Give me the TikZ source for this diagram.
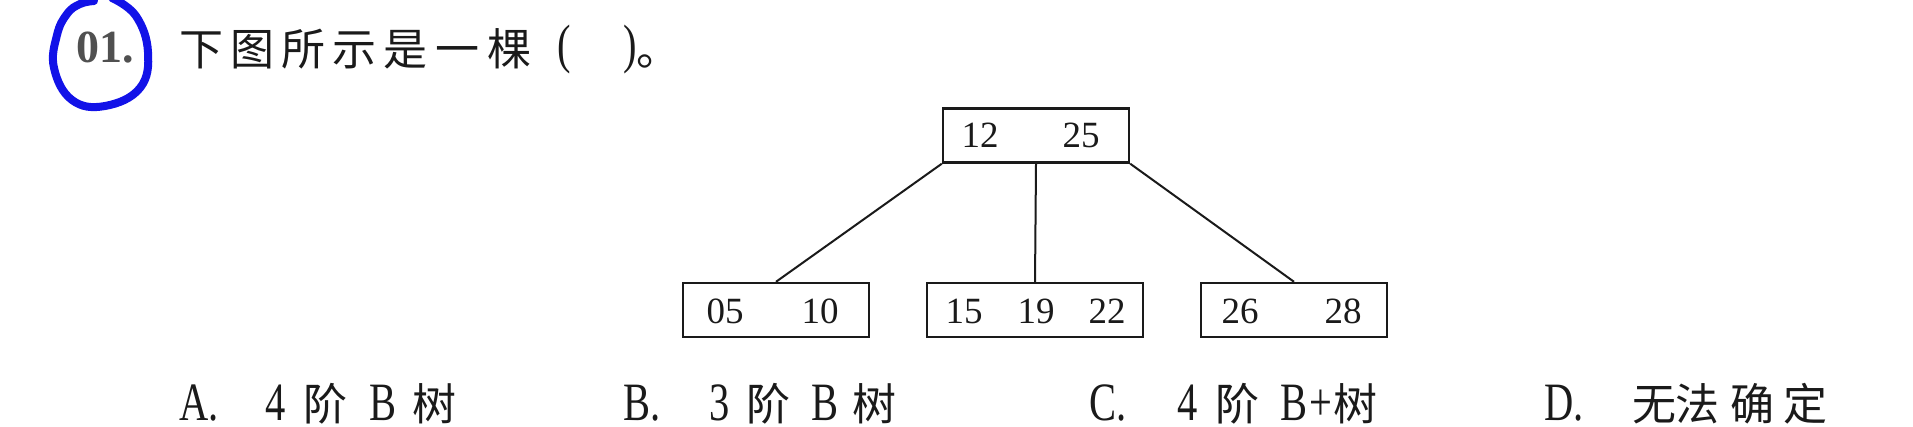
\documentclass[tikz,border=0pt]{standalone}
\usepackage{fontspec}
\setmainfont{Liberation Serif}
\newfontfamily\cjk{Noto Sans CJK SC}
\newfontfamily\latn[FakeStretch=0.75]{Liberation Serif}
\newcommand\myzh[1]{{\cjk\fontsize{44}{48}\selectfont #1}}
\newcommand\myla[1]{{\latn\fontsize{54}{58}\selectfont #1}}
% place a glyph centred at an offset (pt) from the node origin, taking no width
\newcommand\gl[2]{\makebox[0pt][l]{\hspace{#1pt}\makebox[0pt][c]{#2}}}
\definecolor{inkblack}{HTML}{1A1A1A}
\definecolor{numgray}{HTML}{505050}
\definecolor{penblue}{HTML}{1212E8}
\begin{document}
\begin{tikzpicture}[x=1pt,y=-1pt,
  keybox/.style={draw=inkblack, line width=2.4pt, minimum height=54pt, inner sep=0pt},
  keytxt/.style={anchor=base, inner sep=0pt, text=inkblack, font=\fontsize{37}{40}\selectfont},
  link/.style={draw=inkblack, line width=2pt},
  opt/.style={anchor=base west, inner sep=0pt, text=inkblack},
  pen/.style={draw=penblue, line width=8pt, line cap=round, line join=round},
]
\useasboundingbox[fill=white] (0,0) rectangle (1913,427);

% question number and blue pen loop
\node[anchor=base west, inner sep=0pt, text=numgray, font=\fontsize{46}{50}\selectfont\bfseries] (num) at (76,63) {01.};
\draw[pen] plot[smooth, tension=0.7] coordinates {(112,-2) (136,16) (148,52) (140,88) (105,106) (72,100) (54,68) (57,35) (67,14) (80,4) (94,1)};

% question text
\node[opt] (title) at (185,66) {\gl{16}{\myzh{下}}\gl{66.5}{\myzh{图}}\gl{117.7}{\myzh{所}}\gl{169}{\myzh{示}}\gl{220.3}{\myzh{是}}\gl{271.7}{\myzh{一}}\gl{324}{\myzh{棵}}\gl{379}{\raisebox{3pt}{\myla{(}}}\gl{445}{\raisebox{3pt}{\myla{)}}}\gl{473}{\myzh{。}}\hspace{470pt}};

% tree
\node[keybox, minimum width=186pt] (root) at (1036,135.5) {};
\node[keybox, minimum width=186pt] (left) at (776,310) {};
\node[keybox, minimum width=216pt] (mid) at (1035,310) {};
\node[keybox, minimum width=186pt] (right) at (1294,310) {};

\node[keytxt] (k12) at (980,148) {12};
\node[keytxt] (k25) at (1081,148) {25};
\node[keytxt] (k05) at (725,324) {05};
\node[keytxt] (k10) at (820,324) {10};
\node[keytxt] (k15) at (964,324) {15};
\node[keytxt] (k19) at (1036,324) {19};
\node[keytxt] (k22) at (1107,324) {22};
\node[keytxt] (k26) at (1240,324) {26};
\node[keytxt] (k28) at (1343,324) {28};

\draw[link] (root.south west) -- (left.north);
\draw[link] (root.south) -- (mid.north);
\draw[link] (root.south east) -- (right.north);

% options
\node[opt] (optA) at (179,420) {\makebox[0pt][l]{\myla{A.}}\gl{96}{\myla{4}}\gl{146}{\myzh{阶}}\gl{203.5}{\myla{B}}\gl{255}{\myzh{树}}\hspace{277pt}};
\node[opt] (optB) at (623,420) {\makebox[0pt][l]{\myla{B.}}\gl{96}{\myla{3}}\gl{145}{\myzh{阶}}\gl{201}{\myla{B}}\gl{251}{\myzh{树}}\hspace{273pt}};
\node[opt] (optC) at (1089,420) {\makebox[0pt][l]{\myla{C.}}\gl{98}{\myla{4}}\gl{148}{\myzh{阶}}\gl{204.5}{\myla{B}}\gl{231}{\myla{+}}\gl{266}{\myzh{树}}\hspace{288pt}};
\node[opt] (optD) at (1544,420) {\makebox[0pt][l]{\myla{D.}}\gl{110}{\myzh{无}}\gl{152.5}{\myzh{法}}\gl{207.5}{\myzh{确}}\gl{260.5}{\myzh{定}}\hspace{281pt}};
\end{tikzpicture}
\end{document}
